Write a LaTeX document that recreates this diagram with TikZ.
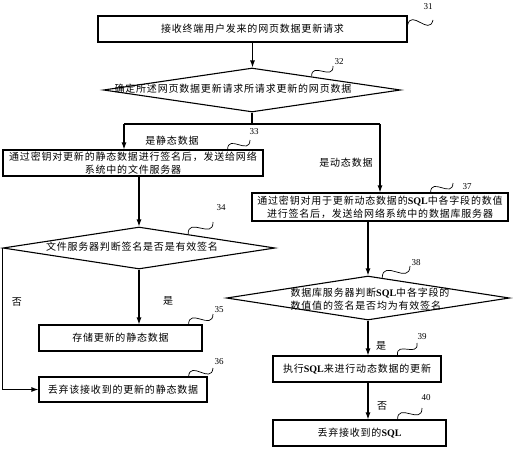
\documentclass[tikz,border=0pt]{standalone}
\usepackage{fontspec}
\setmainfont{Liberation Serif}
\newfontfamily\cjk[LetterSpace=8]{Noto Sans CJK SC}
\usetikzlibrary{
    arrows.meta,        % Latex tips
    shapes.geometric,   % diamond
    calc                % points on the diamond edges, wave leaders
}
\newcommand{\SQLtxt}{{\rmfamily\bfseries SQL}}
\tikzset{
    squig/.style={
        to path={.. controls ($(\tikztostart)!0.65!65:(\tikztotarget)$)
                 and ($(\tikztotarget)!0.65!65:(\tikztostart)$) .. (\tikztotarget)}
    }
}

\begin{document}
\begin{tikzpicture}[x=1pt, y=-1pt,
        font=\fontsize{10}{13}\cjk, >={Latex[length=7pt,width=5pt]},
        line width=1.1pt,
        blk/.style={draw, align=center, inner sep=1pt},
        dec/.style={diamond, draw, inner sep=0pt},
        lbl/.style={inner sep=1pt},
        stepno/.style={font=\fontsize{9}{10}\rmfamily, inner sep=0pt},
        lead/.style={line width=0.7pt, squig}]
    \useasboundingbox (0,0) rectangle (518,450);

    % boxes and decisions
    \node[blk, minimum width=309pt, minimum height=26pt] (b31) at (252.5,29) {接收终端用户发来的网页数据更新请求};
    \node[dec, minimum width=297pt, minimum height=44pt] (d32) at (252,90) {};
    \node[lbl] (t32) at (233,89) {确定所述网页数据更新请求所请求更新的网页数据};
    \node[blk, minimum width=260pt, minimum height=26pt] (b33) at (133,163) {通过密钥对更新的静态数据进行签名后，发送给网络\\系统中的文件服务器};
    \node[blk, minimum width=256pt, minimum height=28pt] (b37) at (380,207) {通过密钥对用于更新动态数据的\SQLtxt{}中各字段的数值\\进行签名后，发送给网络系统中的数据库服务器};
    \node[dec, minimum width=272pt, minimum height=42pt] (d34) at (139,248) {};
    \node[lbl] (t34) at (132,247) {文件服务器判断签名是否是有效签名};
    \node[dec, minimum width=283pt, minimum height=44pt] (d38) at (368,298) {};
    \node[lbl, align=left] (t38) at (370,299) {数据库服务器判断\SQLtxt{}中各字段的\\数值值的签名是否均为有效签名};
    \node[blk, minimum width=163pt, minimum height=26pt] (b35) at (120.5,338) {存储更新的静态数据};
    \node[blk, minimum width=168pt, minimum height=25pt] (b36) at (123,389.5) {丢弃该接收到的更新的静态数据};
    \node[blk, minimum width=168pt, minimum height=26pt] (b39) at (357,369) {执行\SQLtxt{}来进行动态数据的更新};
    \node[blk, minimum width=173pt, minimum height=26pt] (b40) at (359.5,433) {丢弃接收到的\SQLtxt};

    % branch labels
    \node[lbl] (ls) at (172,141) {是静态数据};
    \node[lbl] (ld) at (346,163) {是动态数据};
    \node[lbl] (no34) at (17,302) {否};
    \node[lbl] (yes34) at (168,301) {是};
    \node[lbl] (yes38) at (381,346) {是};
    \node[lbl] (no39) at (382,406) {否};

    % flow
    \coordinate (sl) at (124,124);
    \coordinate (sr) at (380,124);
    \draw[->] (b31.south) -- (b31.south |- d32.north);
    \draw (d32.south) -- (d32.south |- sl);
    \draw (sl) -- (sr);
    \draw[->] (sl) -- (sl |- b33.north);
    \draw[->] (sr) -- (b37.north);
    \draw[->] (d34.north |- b33.south) -- (d34.north);
    \draw[->] (d34.south) -- (d34.south |- b35.north);
    \draw[->] (d34.west) -- (d34.west |- b36.west) -- (b36.west);
    \draw[->] (d38.north |- b37.south) -- (d38.north);
    \draw[->] (d38.south) -- (d38.south |- b39.north);
    \draw[->] (d38.south |- b39.south) -- (d38.south |- b40.north);

    % step numbers
    \node[stepno] (s31) at (428,7) {31};
    \node[stepno] (s32) at (339,62) {32};
    \node[stepno] (s33) at (254,132) {33};
    \node[stepno] (s34) at (221,208) {34};
    \node[stepno] (s35) at (219,310) {35};
    \node[stepno] (s36) at (219,362) {36};
    \node[stepno] (s37) at (467,187) {37};
    \node[stepno] (s38) at (416,263) {38};
    \node[stepno] (s39) at (422,337) {39};
    \node[stepno] (s40) at (426,398) {40};
    \coordinate (e31) at (433,20);
    \coordinate (e32) at (333,66);
    \coordinate (e33) at (250,140);
    \coordinate (e34) at (213,222);
    \coordinate (e35) at (213,314);
    \coordinate (e36) at (213,368);
    \coordinate (e37) at (453,183);
    \coordinate (e38) at (410,266);
    \coordinate (e39) at (417,343);
    \coordinate (e40) at (422,408);
    \draw[lead] ([yshift=4pt]b31.east) to (e31);
    \draw[lead] ($(d32.north)!0.4!(d32.east)$) to (e32);
    \draw[lead] ([xshift=-36pt]b33.north east) to (e33);
    \draw[lead] ($(d34.north)!0.36!(d34.east)$) to (e34);
    \draw[lead] ([xshift=-14pt]b35.north east) to (e35);
    \draw[lead] ([xshift=-19pt]b36.north east) to (e36);
    \draw[lead] ([xshift=-78pt]b37.north east) to (e37);
    \draw[lead] ($(d38.north)!0.1!(d38.east)$) to (e38);
    \draw[lead] ([xshift=-44pt]b39.north east) to (e39);
    \draw[lead] ([xshift=-49pt]b40.north east) to (e40);
\end{tikzpicture}
\end{document}
